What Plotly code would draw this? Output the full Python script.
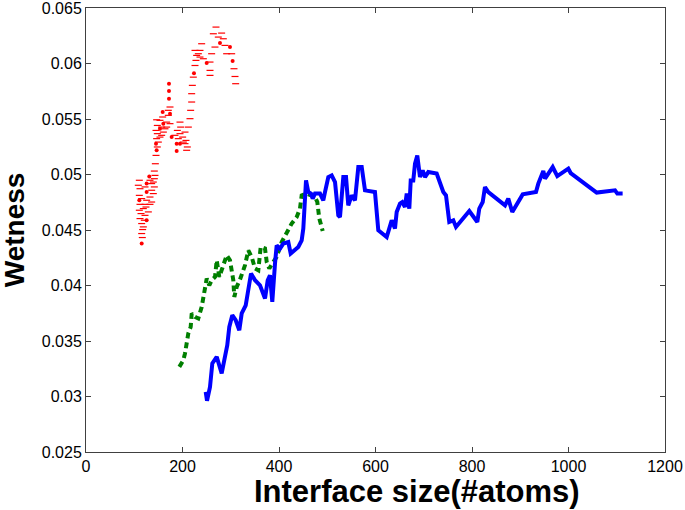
import plotly.graph_objects as go

# Blue series (solid)
blue_x = [248.1, 250.8, 257.0, 261.8, 270.9, 274.2, 281.2, 286.6, 292.8, 297.0,
          303.2, 310.3, 317.7, 322.7, 331.0, 335.1, 342.0, 350.3, 360.6, 371.0,
          376.6, 381.3, 386.1, 391.7, 395.2, 402.1, 408.9, 419.3, 424.2, 440.0,
          447.0, 450.4, 456.0, 460.7, 466.3, 469.8, 474.6, 485.0, 491.8, 495.3,
          502.2, 509.2, 516.1, 522.9, 526.4, 533.3, 538.9, 543.6, 550.7, 557.5,
          561.0, 564.4, 571.4, 578.2, 598.9, 605.8, 623.2, 633.6, 640.4, 643.9,
          650.8, 655.5, 661.1, 664.7, 670.1, 673.0, 678.3, 681.9, 686.6, 692.2,
          697.8, 702.6, 709.4, 726.8, 740.5, 746.1, 752.9, 761.2, 766.8, 794.4,
          811.0, 815.1, 822.2, 826.9, 833.8, 868.4, 875.2, 883.5, 905.1, 932.6,
          937.4, 947.8, 951.3, 967.3, 976.8, 999.6, 1004.5, 1058.4, 1096.4, 1101.2,
          1112.2]
blue_y = [0.03042, 0.02961, 0.03087, 0.03298, 0.03357, 0.03312, 0.03208, 0.03327, 0.03462, 0.03627,
          0.03732, 0.03687, 0.03597, 0.03748, 0.03822, 0.03928, 0.04108, 0.04047, 0.04002, 0.03883,
          0.04047, 0.04092, 0.03852, 0.04198, 0.04362, 0.04333, 0.04378, 0.04392, 0.04288, 0.04347,
          0.04407, 0.04513, 0.04947, 0.04842, 0.04828, 0.04783, 0.04828, 0.04828, 0.04767, 0.04842,
          0.04977, 0.04992, 0.04932, 0.04632, 0.04617, 0.04977, 0.04977, 0.04722, 0.04812, 0.04767,
          0.04918, 0.05067, 0.05067, 0.04857, 0.04842, 0.04497, 0.04437, 0.04587, 0.04513, 0.04662,
          0.04738, 0.04752, 0.04707, 0.04828, 0.04693, 0.04947, 0.04947, 0.05098, 0.05172, 0.04977,
          0.05037, 0.04977, 0.05022, 0.05008, 0.04842, 0.04812, 0.04572, 0.04587, 0.04527, 0.04671,
          0.04572, 0.04693, 0.04752, 0.04887, 0.04842, 0.04722, 0.04783, 0.04662, 0.04821, 0.04842,
          0.04918, 0.05031, 0.04963, 0.05067, 0.04986, 0.05053, 0.05013, 0.04837, 0.04857, 0.04828,
          0.04828]

# Green series (dashed)
green_x = [193.4, 201.7, 205.2, 208.7, 212.0, 217.0, 219.1, 225.9, 232.7, 239.8,
           243.1, 246.6, 250.2, 255.5, 260.5, 267.4, 270.9, 276.3, 283.3, 291.6,
           298.4, 302.0, 305.3, 307.4, 312.3, 319.2, 329.5, 336.4, 343.4, 350.3,
           357.1, 362.1, 371.0, 374.5, 379.9, 388.2, 395.2, 405.6, 415.9, 426.3,
           436.7, 443.5, 447.0, 457.4, 474.6, 479.4, 483.5, 490.6]
green_y = [0.03267, 0.03327, 0.03388, 0.03507, 0.03568, 0.03627, 0.03748, 0.03717, 0.03703, 0.03807,
           0.03897, 0.03987, 0.04063, 0.04002, 0.04047, 0.04077, 0.04227, 0.04077, 0.04167, 0.04272,
           0.04227, 0.04137, 0.04047, 0.03897, 0.03987, 0.04054, 0.04182, 0.04317, 0.04257, 0.04153,
           0.04137, 0.04347, 0.04333, 0.04212, 0.04153, 0.04212, 0.04257, 0.04392, 0.04482, 0.04558,
           0.04617, 0.04693, 0.04812, 0.04828, 0.04797, 0.04752, 0.04603, 0.04491]

# Red series: short dash marks
red_x = [116.7, 115.4, 117.4, 118.8, 115.4, 120.9, 111.9, 122.3, 114.0, 110.5,
         118.8, 129.2, 124.3, 111.9, 122.3, 132.6, 115.4, 125.7, 136.1, 132.6,
         110.5, 139.5, 136.1, 111.9, 122.3, 141.6, 108.4, 136.1, 139.5, 110.5,
         132.6, 141.6, 143.0, 141.6, 143.7, 145.1, 147.8, 149.9, 146.4, 153.3,
         156.8, 147.8, 160.3, 145.1, 163.7, 156.8, 147.8, 167.2, 153.3, 167.2,
         174.1, 146.4, 158.9, 170.6, 170.6, 174.1,
         184.4, 191.3, 194.8, 189.3, 196.2, 194.8, 205.2, 200.3, 207.2, 205.2,
         210.0, 208.6, 201.7, 212.1, 215.5, 216.9, 219.0, 219.0, 220.4, 222.4,
         225.9, 227.9, 229.3, 232.8, 236.2, 239.7, 225.9, 236.2, 243.2, 257.0,
         257.0, 257.0, 260.4, 267.3, 263.9, 269.4, 274.2, 281.1, 284.6, 288.1,
         291.5, 301.9, 306.7, 308.8, 310.2]
red_y = [0.04432, 0.04468, 0.04504, 0.04528, 0.04558, 0.04588, 0.04603, 0.04632, 0.04648, 0.04678,
         0.04693, 0.04663, 0.04707, 0.04731, 0.04731, 0.04731, 0.04783, 0.04768, 0.04752, 0.04797,
         0.04812, 0.04828, 0.04858, 0.04872, 0.04888, 0.04888, 0.04903, 0.04918, 0.04932, 0.04948,
         0.04948, 0.04962, 0.04992, 0.05031, 0.05097, 0.05172, 0.05248, 0.05292, 0.05323, 0.05337,
         0.05353, 0.05368, 0.05382, 0.05397, 0.05412, 0.05427, 0.05442, 0.05427, 0.05488, 0.05472,
         0.05458, 0.05493, 0.05518, 0.05533, 0.05578, 0.05608,
         0.05353, 0.05323, 0.05368, 0.05397, 0.05427, 0.05472, 0.05382, 0.05337, 0.05307, 0.05278,
         0.05248, 0.05218, 0.05292, 0.05427, 0.05503, 0.05578, 0.05653, 0.05728, 0.05803, 0.05877,
         0.05982, 0.06028, 0.06073, 0.06088, 0.06118, 0.06178, 0.06118, 0.06058, 0.06043, 0.06013,
         0.05938, 0.05893, 0.06088, 0.06148, 0.06268, 0.06328, 0.06238, 0.06274, 0.06223, 0.06163,
         0.06088, 0.06088, 0.05953, 0.05883, 0.05818]
# Red series: dot marks
red_dot_x = [115.4, 125.7, 110.5, 125.7, 125.7, 131.2, 146.4, 145.1, 153.3, 160.3,
             174.1, 158.9, 172.0, 172.0, 172.0, 177.5, 187.9, 187.9, 194.8, 223.8,
             250.1, 277.7, 298.4, 303.9]
red_dot_y = [0.04378, 0.04588, 0.04768, 0.04843, 0.04918, 0.04983, 0.05218, 0.05278, 0.05412, 0.05458,
             0.05548, 0.05563, 0.05683, 0.05752, 0.05818, 0.05337, 0.05278, 0.05212, 0.05278, 0.05913,
             0.06004, 0.06184, 0.06148, 0.06022]

x_ticks = [0, 200, 400, 600, 800, 1000, 1200]
y_ticks = [0.025, 0.03, 0.035, 0.04, 0.045, 0.05, 0.055, 0.06, 0.065]
y_tick_text = ["0.025", "0.03", "0.035", "0.04", "0.045", "0.05", "0.055", "0.06", "0.065"]

FONT = "Liberation Sans, Arial, sans-serif"

fig = go.Figure()
fig.add_trace(go.Scatter(x=red_x, y=red_y, mode="markers",
                         marker=dict(symbol="line-ew", size=5, color="#ff0000",
                                     line=dict(color="#ff0000", width=1.2))))
fig.add_trace(go.Scatter(x=red_dot_x, y=red_dot_y, mode="markers",
                         marker=dict(symbol="circle", size=4, color="#ff0000")))
fig.add_trace(go.Scatter(x=green_x, y=green_y, mode="lines",
                         line=dict(color="#007f00", width=4, dash="6px,4px")))
fig.add_trace(go.Scatter(x=blue_x, y=blue_y, mode="lines",
                         line=dict(color="#0000ff", width=4)))

axis_common = dict(showgrid=False, zeroline=False, showline=True, mirror="allticks",
                   linecolor="#404040", linewidth=1, ticks="inside", ticklen=5,
                   tickcolor="#404040", automargin=False, ticklabeloverflow="allow",
                   tickfont=dict(family=FONT, size=16, color="#000000"))

fig.update_layout(
    width=685, height=510,
    margin=dict(l=86, r=20, t=7.5, b=58, autoexpand=False),
    paper_bgcolor="white", plot_bgcolor="white",
    showlegend=False,
    xaxis=dict(range=[0, 1200], tickvals=x_ticks, **axis_common),
    yaxis=dict(range=[0.025, 0.065], tickvals=y_ticks, ticktext=y_tick_text, **axis_common),
    annotations=[
        dict(text="Interface size(#atoms)", xref="paper", yref="paper",
             x=0.572, y=-0.088, xanchor="center", yanchor="middle", showarrow=False,
             font=dict(family=FONT, size=31, color="#000000", weight="bold")),
        dict(text="Wetness", xref="paper", yref="paper",
             x=-0.124, y=0.5, xanchor="center", yanchor="middle", showarrow=False,
             textangle=-90,
             font=dict(family=FONT, size=28, color="#000000", weight="bold")),
    ],
)

# Remove the default page margin so the 685x510 figure fills the window exactly.
fig.write_html("out.html",
               config={"displayModeBar": False, "staticPlot": True},
               post_script="document.body.style.margin='0';document.body.style.overflow='hidden';")
